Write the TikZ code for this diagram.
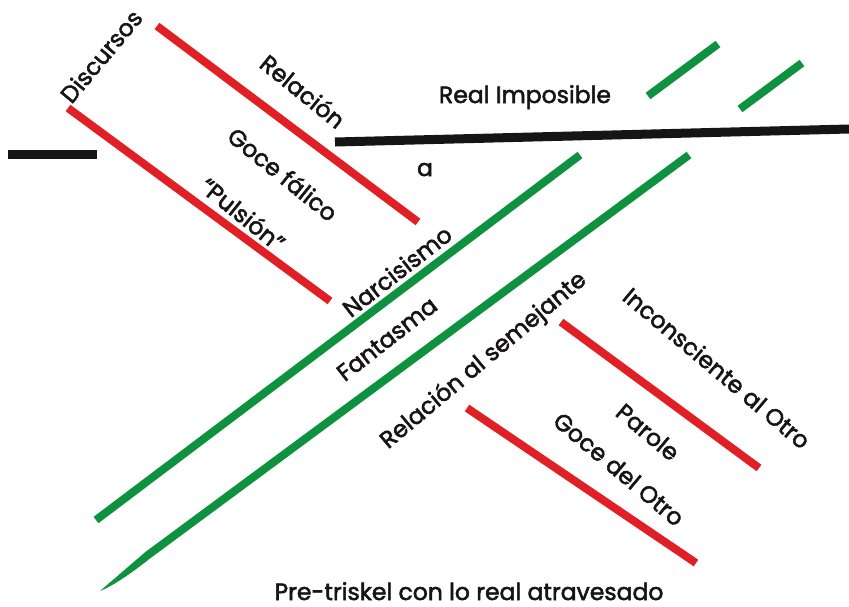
\documentclass[tikz,border=0pt]{standalone}
\usepackage{fontspec}
\setmainfont{Poppins}
\newfontfamily\lblfont{Poppins}[FakeBold=2.2]
\begin{document}
\definecolor{lred}{RGB}{224,32,36}
\definecolor{lgreen}{RGB}{14,146,64}
\definecolor{lblack}{RGB}{22,20,20}
\begin{tikzpicture}[x=1pt,y=-1pt,
  redline/.style={draw=lred,line width=8pt},
  greenline/.style={draw=lgreen,line width=8pt},
  blackline/.style={draw=lblack,line width=9pt},
  lbl/.style={font=\lblfont\fontsize{23.5}{26}\selectfont,text=lblack,inner sep=0pt}]
\useasboundingbox (0,0) rectangle (849,606);
\fill[white] (0,0) rectangle (849,606);

% black bars
\coordinate (bl1) at (8,154);
\coordinate (bl2) at (97,154);
\coordinate (bt1) at (335,142);
\coordinate (bt2) at (849,129);
\draw[blackline] (bl1) -- (bl2);
\draw[blackline] (bt1) -- (bt2);

% red bars, upper left pair
\coordinate (ra1) at (157,26);
\coordinate (ra2) at (418,222);
\coordinate (rb1) at (68,108);
\coordinate (rb2) at (330,301);
\draw[redline] (ra1) -- (ra2);
\draw[redline] (rb1) -- (rb2);

% red bars, lower right pair
\coordinate (rc1) at (561,322);
\coordinate (rc2) at (759,468);
\coordinate (rd1) at (467,408);
\coordinate (rd2) at (696,563);
\draw[redline] (rc1) -- (rc2);
\draw[redline] (rd1) -- (rd2);

% green bars, short upper right pair
\coordinate (ga1) at (648,96);
\coordinate (ga2) at (718,44);
\coordinate (gb1) at (740,109);
\coordinate (gb2) at (802,63);
\draw[greenline] (ga1) -- (ga2);
\draw[greenline] (gb1) -- (gb2);

% green bars, long diagonal pair
\coordinate (gc1) at (580,155);
\coordinate (gc2) at (96,520);
\draw[greenline] (gc1) -- (gc2);
% second one narrows to a point at its lower end
\fill[lgreen] (691.4,158.2) -- (150.4,558.2) .. controls (125,578) and (112,586) .. (100,591)
  -- (145.6,551.8) -- (686.6,151.8) -- cycle;

% labels
\node[lbl,rotate=50] (discursos) at (101,56) {Discursos};
\node[lbl,rotate=-39] (relacion) at (303,91) {Relación};
\node[lbl,rotate=-39] (goce) at (283,174) {Goce fálico};
\node[lbl,rotate=-39] (pulsion) at (243,214) {“Pulsión”};
\node[lbl,anchor=base] (a) at (425,176) {a};
\node[lbl,anchor=base] (real) at (525,103) {Real Imposible};
\node[lbl,rotate=38] (narc) at (397,271) {Narcisismo};
\node[lbl,rotate=38] (fant) at (387,339) {Fantasma};
\node[lbl,rotate=40] (semej) at (484,361) {Relación al semejante};
\node[lbl,rotate=-40] (incons) at (717,368) {Inconsciente al Otro};
\node[lbl,rotate=-40] (parole) at (648,432) {Parole};
\node[lbl,rotate=-40] (goceotro) at (619,469) {Goce del Otro};
\node[lbl,anchor=base] (title) at (469,600) {Pre-triskel con lo real atravesado};
\end{tikzpicture}
\end{document}
